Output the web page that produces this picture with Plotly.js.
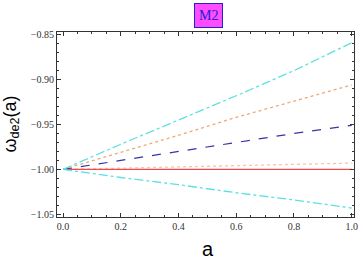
<!DOCTYPE html>
<html><head><meta charset="utf-8">
<script src="https://cdn.plot.ly/plotly-3.0.1.min.js"></script>
<style>body{margin:0;padding:0;background:#fff}#c{width:360px;height:263px}</style>
</head><body><div id="c"></div>
<script>
const aVals = [0, 0.2, 0.4, 0.6, 0.8, 1.0];
const cyanTop = [-1.0, -0.972, -0.945, -0.918, -0.890, -0.859];
const orangeDot = [-1.0, -0.981, -0.962, -0.942, -0.924, -0.906];
const blueDash = [-1.0, -0.990, -0.980, -0.970, -0.960, -0.951];
const peachDot = [-1.0, -0.9986, -0.9972, -0.9958, -0.9944, -0.993];
const redSolid = [-1.0, -1.0, -1.0, -1.0, -1.0, -1.0];
const cyanBottom = [-1.0, -1.009, -1.017, -1.026, -1.034, -1.043];
const xTicks = [0, 0.2, 0.4, 0.6, 0.8, 1.0];
const xTickText = ["0.0", "0.2", "0.4", "0.6", "0.8", "1.0"];
const yTicks = [-1.05, -1.00, -0.95, -0.90, -0.85];
const yTickText = ["\u22121.05", "\u22121.00", "\u22120.95", "\u22120.90", "\u22120.85"];

function tr(y, color, dash, w) {
  return {x: aVals, y: y, mode: 'lines', line: {color: color, dash: dash, width: w || 1.2},
          hoverinfo: 'skip', showlegend: false};
}
const data = [
  tr(peachDot, '#f6c4b2', 'dot', 1.3),
  tr(redSolid, '#f24a4a', 'solid', 1.2),
  tr(blueDash, '#3434a6', 'dash', 1.2),
  tr(orangeDot, '#eda878', 'dot', 1.3),
  tr(cyanTop, '#5ee0e2', 'dashdot', 1.3),
  tr(cyanBottom, '#5ee0e2', 'dashdot', 1.3)
];
const axisCommon = {
  showgrid: false, zeroline: false, showline: true, linecolor: '#333', linewidth: 1,
  mirror: 'allticks', ticks: 'inside', ticklen: 4, tickcolor: '#333', tickwidth: 1,
  tickfont: {family: 'Liberation Serif, Times New Roman, serif', size: 10, color: '#333'}
};
const layout = {
  width: 360, height: 263,
  margin: {l: 57, r: 6, t: 32, b: 46},
  paper_bgcolor: '#fff', plot_bgcolor: '#fff',
  xaxis: Object.assign({}, axisCommon, {
    range: [-0.021, 1.008], tickmode: 'array', tickvals: xTicks, ticktext: xTickText,
    minor: {dtick: 0.05, ticks: 'inside', ticklen: 2, tickcolor: '#333', showgrid: false}
  }),
  yaxis: Object.assign({}, axisCommon, {
    range: [-1.053, -0.847], tickmode: 'array', tickvals: yTicks, ticktext: yTickText,
    minor: {dtick: 0.01, ticks: 'inside', ticklen: 2, tickcolor: '#333', showgrid: false}
  }),
  annotations: [
    {text: 'M2', xref: 'paper', yref: 'paper', x: 0.51, y: 1, yshift: 17, xanchor: 'center', yanchor: 'middle',
     showarrow: false, font: {family: 'Liberation Serif, Times New Roman, serif', size: 14, color: '#2222cc'},
     bgcolor: '#ff4cff', bordercolor: '#2222cc', borderwidth: 1, borderpad: 4},
    {text: 'a', xref: 'paper', yref: 'paper', x: 0.51, y: 0, yshift: -32, xanchor: 'center', yanchor: 'middle',
     showarrow: false, font: {family: 'Liberation Sans, Arial, sans-serif', size: 20, color: '#000'}},
    {text: '\u03c9<sub>de2</sub>(a)', xref: 'paper', yref: 'paper', x: 0, xshift: -46, y: 0.5,
     xanchor: 'center', yanchor: 'middle', textangle: -90, showarrow: false,
     font: {family: 'Liberation Sans, Arial, sans-serif', size: 18, color: '#000'}}
  ]
};
Plotly.newPlot('c', data, layout, {staticPlot: true, displayModeBar: false});
</script></body></html>
